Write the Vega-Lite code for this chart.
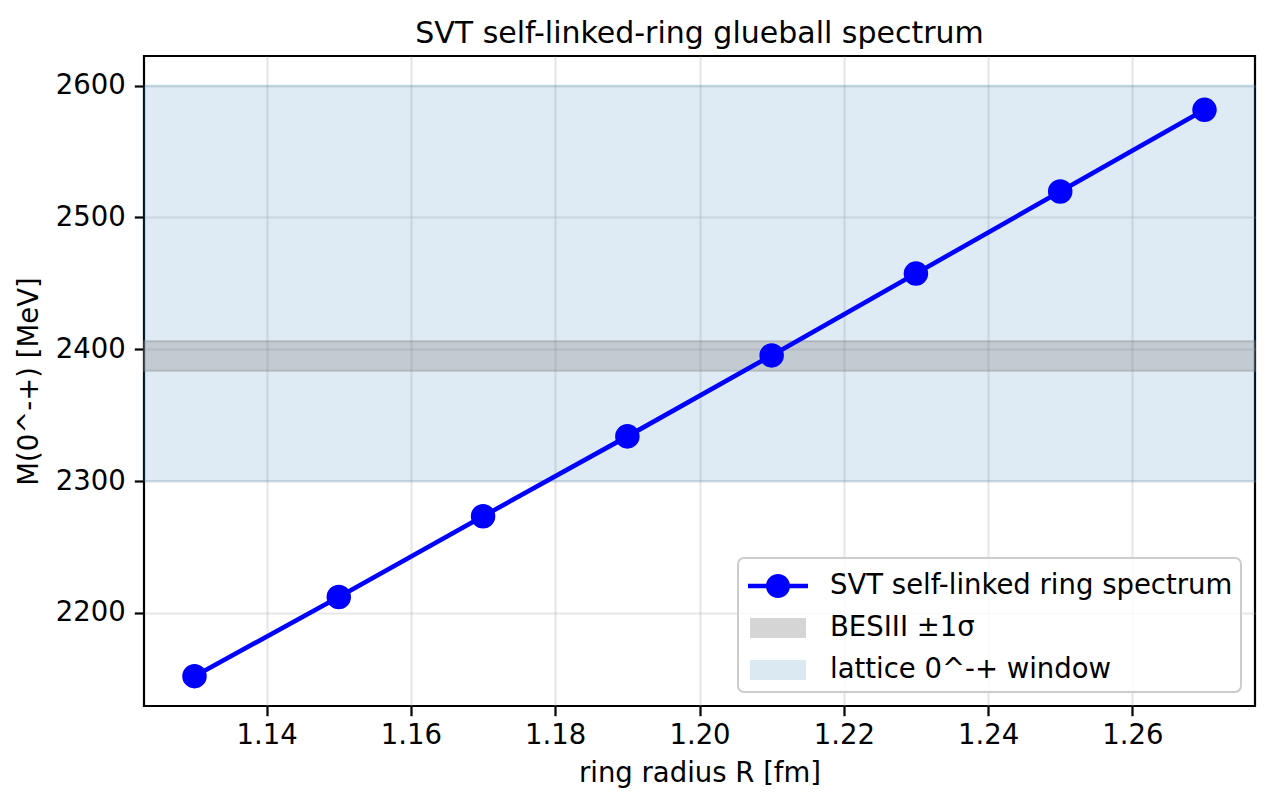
{
  "$schema": "https://vega.github.io/schema/vega-lite/v6.json",
  "width": 1111,
  "height": 650,
  "autosize": "none",
  "padding": {"left": 144, "top": 56, "right": 18, "bottom": 101},
  "background": "white",
  "title": {
    "text": "SVT self-linked-ring glueball spectrum",
    "font": "DejaVu Sans",
    "fontSize": 30,
    "fontWeight": "normal",
    "color": "black",
    "anchor": "middle",
    "baseline": "alphabetic",
    "offset": 14,
    "dy": 31
  },
  "datasets": {
    "spectrum": [
      {"R": 1.13, "M": 2152.0},
      {"R": 1.15, "M": 2212.1},
      {"R": 1.17, "M": 2273.3},
      {"R": 1.19, "M": 2333.9},
      {"R": 1.21, "M": 2395.3},
      {"R": 1.23, "M": 2457.4},
      {"R": 1.25, "M": 2519.6},
      {"R": 1.27, "M": 2581.6}
    ],
    "lattice": [{"band": "lattice 0^-+ window", "lo": 2300, "hi": 2600}],
    "besiii": [{"band": "BESIII ±1σ", "lo": 2383.6, "hi": 2406.2}]
  },
  "config": {
    "view": {"stroke": "black", "strokeWidth": 2.2},
    "axis": {
      "domain": false,
      "grid": true,
      "gridColor": "#b0b0b0",
      "gridOpacity": 0.3,
      "gridWidth": 2.2,
      "ticks": true,
      "tickColor": "black",
      "tickWidth": 2.2,
      "tickSize": 9.7,
      "labelFont": "DejaVu Sans",
      "labelFontSize": 27.5,
      "labelColor": "black",
      "titleFont": "DejaVu Sans",
      "titleFontSize": 27.5,
      "titleFontWeight": "normal",
      "titleColor": "black"
    },
    "legend": {
      "orient": "bottom-right",
      "offset": 14,
      "padding": 8,
      "symbolSize": 1600,
      "symbolStrokeWidth": 0,
      "symbolOffset": 12,
      "labelOffset": 32,
      "rowPadding": 8,
      "labelFont": "DejaVu Sans",
      "labelFontSize": 27.5,
      "labelColor": "black",
      "labelLimit": 1000,
      "fillColor": "rgba(255,255,255,0.8)",
      "strokeColor": "#cccccc",
      "strokeWidth": 2,
      "cornerRadius": 6
    }
  },
  "layer": [
    {
      "data": {"name": "lattice"},
      "mark": {"type": "rect", "fillOpacity": 0.15, "stroke": "#1f77b4", "strokeOpacity": 0.15, "strokeWidth": 2.2},
      "encoding": {
        "y": {
          "field": "lo", "type": "quantitative",
          "scale": {"domain": [2129.4, 2622.4], "zero": false, "nice": false},
          "axis": {"title": "M(0^-+) [MeV]", "values": [2200, 2300, 2400, 2500, 2600], "format": "d", "labelPadding": 9, "titlePadding": 12}
        },
        "y2": {"field": "hi"},
        "color": {
          "field": "band", "type": "nominal",
          "scale": {
            "domain": ["SVT self-linked ring spectrum", "BESIII ±1σ", "lattice 0^-+ window"],
            "range": ["blue", "gray", "#1f77b4"]
          },
          "legend": {"title": null}
        }
      }
    },
    {
      "data": {"name": "besiii"},
      "mark": {"type": "rect", "fillOpacity": 0.3, "stroke": "gray", "strokeOpacity": 0.3, "strokeWidth": 2.2},
      "encoding": {
        "y": {"field": "lo", "type": "quantitative"},
        "y2": {"field": "hi"},
        "color": {"field": "band", "type": "nominal"}
      }
    },
    {
      "data": {"name": "spectrum"},
      "mark": {"type": "line", "strokeWidth": 4.6},
      "encoding": {
        "x": {
          "field": "R", "type": "quantitative",
          "scale": {"domain": [1.123, 1.277], "zero": false, "nice": false},
          "axis": {"title": "ring radius R [fm]", "values": [1.14, 1.16, 1.18, 1.2, 1.22, 1.24, 1.26], "format": ".2f", "labelPadding": 6, "titlePadding": 10}
        },
        "y": {"field": "M", "type": "quantitative"},
        "color": {"datum": "SVT self-linked ring spectrum", "type": "nominal"}
      }
    },
    {
      "data": {"name": "spectrum"},
      "mark": {"type": "point", "shape": "circle", "filled": true, "size": 600, "opacity": 1},
      "encoding": {
        "x": {"field": "R", "type": "quantitative"},
        "y": {"field": "M", "type": "quantitative"},
        "color": {"datum": "SVT self-linked ring spectrum", "type": "nominal"}
      }
    },
    {
      "data": {"name": "lattice"},
      "transform": [{"filter": "false"}],
      "mark": {"type": "point", "filled": true},
      "encoding": {
        "color": {"field": "band", "type": "nominal", "legend": {"title": null}},
        "shape": {
          "field": "band", "type": "nominal",
          "scale": {
            "domain": ["SVT self-linked ring spectrum", "BESIII ±1σ", "lattice 0^-+ window"],
            "range": [
              "M-1.5,-0.115H1.5V0.115H-1.5Z M0.6,0A0.6,0.6,0,1,1,-0.6,0A0.6,0.6,0,1,1,0.6,0Z",
              "M-1.4,-0.5H1.4V0.5H-1.4Z",
              "M-1.4,-0.5H1.4V0.5H-1.4Z"
            ]
          },
          "legend": {"title": null}
        },
        "opacity": {
          "field": "band", "type": "nominal",
          "scale": {
            "type": "ordinal",
            "domain": ["SVT self-linked ring spectrum", "BESIII ±1σ", "lattice 0^-+ window"],
            "range": [1, 0.33, 0.16]
          },
          "legend": {"title": null}
        }
      }
    }
  ]
}
